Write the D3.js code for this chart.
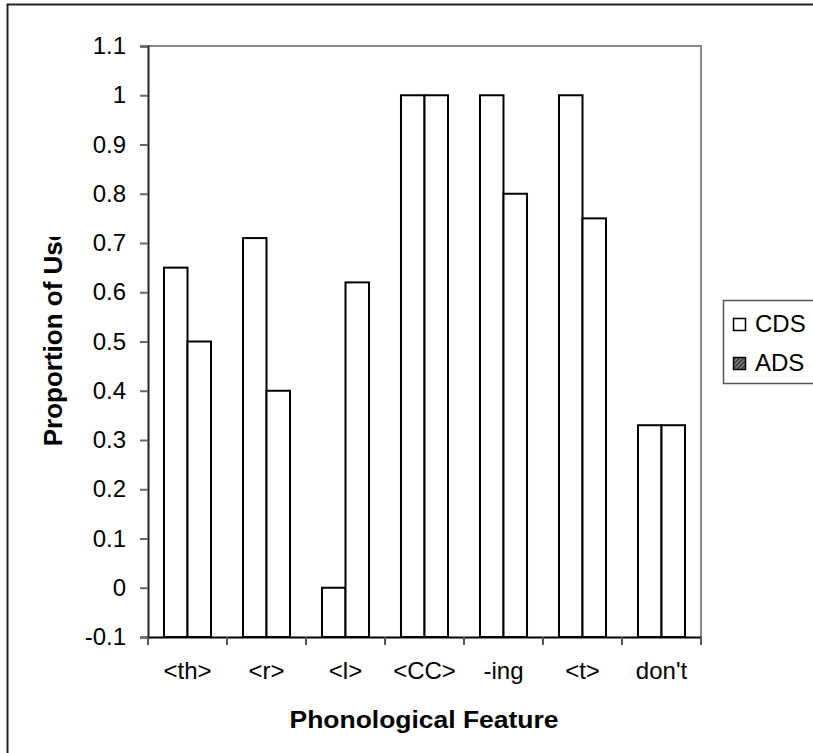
<!DOCTYPE html>
<html lang="en">
<head>
<meta charset="UTF-8">
<title>Phonological Feature</title>
<script src="https://d3js.org/d3.v7.min.js"></script>
<style>
  body { margin: 0; background: #fff; }
  text { font-family: "Liberation Sans", Arial, sans-serif; fill: #000; }
</style>
</head>
<body>
<div id="wrapper"></div>
<script>

// data
const categories = ["<th>", "<r>", "<l>", "<CC>", "-ing", "<t>", "don't"];
const cds = [0.65, 0.71, 0, 1, 1, 1, 0.33];
const ads = [0.5, 0.4, 0.62, 1, 0.8, 0.75, 0.33];
const seriesNames = ["CDS", "ADS"];
const yTicks = [-0.1, 0, 0.1, 0.2, 0.3, 0.4, 0.5, 0.6, 0.7, 0.8, 0.9, 1, 1.1];

const W = 813, H = 753;
// plot area
const plot = {left: 148, top: 46, right: 701, bottom: 637};

const svg = d3.select("#wrapper")
  .append("svg")
    .attr("width", W)
    .attr("height", H);

// hatch for the ADS legend swatch
const defs = svg.append("defs");
const pat = defs.append("pattern")
  .attr("id", "hatch")
  .attr("patternUnits", "userSpaceOnUse")
  .attr("width", 3).attr("height", 3)
  .attr("patternTransform", "rotate(45)");
pat.append("rect").attr("width", 3).attr("height", 3).attr("fill", "#777");
pat.append("line").attr("x1", 0).attr("y1", 0).attr("x2", 0).attr("y2", 3)
  .attr("stroke", "#111").attr("stroke-width", 1.5);

// the y title is cut off at the top in the original
defs.append("clipPath").attr("id", "ylabclip")
  .append("rect").attr("x", 0).attr("y", 237).attr("width", 140).attr("height", 400);

// chart border (runs off the right and bottom edges)
svg.append("rect")
  .attr("x", 7.5).attr("y", 4.5)
  .attr("width", 830).attr("height", 780)
  .attr("fill", "none")
  .attr("stroke", "#222")
  .attr("stroke-width", 2);

// scales
const x = d3.scaleBand()
  .domain(categories)
  .range([plot.left, plot.right])
  .paddingInner(0).paddingOuter(0);

const xSub = d3.scaleBand()
  .domain(seriesNames)
  .range([0, x.bandwidth()])
  .paddingOuter(0.68);

const y = d3.scaleLinear()
  .domain([-0.1, 1.1])
  .range([plot.bottom, plot.top]);

// plot frame top/right in grey
svg.append("path")
  .attr("d", `M${plot.left},${plot.top}H${plot.right}V${plot.bottom}`)
  .attr("fill", "none")
  .attr("stroke", "#888")
  .attr("stroke-width", 2);

// bars
const rows = categories.map((c, i) => ({cat: c, values: [cds[i], ads[i]]}));
svg.append("g")
  .selectAll("g")
  .data(rows)
  .join("g")
    .attr("transform", d => `translate(${x(d.cat)},0)`)
  .selectAll("rect")
  .data(d => d.values.map((v, j) => ({key: seriesNames[j], value: v})))
  .join("rect")
    .attr("x", d => xSub(d.key))
    .attr("y", d => y(d.value))
    .attr("width", xSub.bandwidth())
    .attr("height", d => y(-0.1) - y(d.value))
    .attr("fill", "#fff")
    .attr("stroke", "#000")
    .attr("stroke-width", 2);

// Y axis
const yAxis = svg.append("g")
  .attr("transform", `translate(${plot.left},0)`)
  .call(d3.axisLeft(y).tickValues(yTicks).tickSize(8).tickPadding(14)
    .tickFormat(d => String(+d.toFixed(1))));
yAxis.select(".domain").attr("stroke", "#222").attr("stroke-width", 2);
yAxis.selectAll(".tick line").attr("stroke", "#666").attr("stroke-width", 2);
yAxis.selectAll(".tick text")
  .style("font-size", "24px")
  .attr("font-family", null);

// X axis
const xAxis = svg.append("g")
  .attr("transform", `translate(0,${plot.bottom})`)
  .call(d3.axisBottom(x).tickSize(0).tickPadding(25));
xAxis.select(".domain").attr("stroke", "#000").attr("stroke-width", 2);
xAxis.selectAll(".tick text")
  .style("font-size", "24px")
  .attr("font-family", null);
// tick marks between categories
xAxis.selectAll(".sep")
  .data(categories.concat(["end"]))
  .join("line")
    .attr("class", "sep")
    .attr("x1", (d, i) => i < categories.length ? x(d) : plot.right)
    .attr("x2", (d, i) => i < categories.length ? x(d) : plot.right)
    .attr("y1", 0).attr("y2", 8)
    .attr("stroke", "#555").attr("stroke-width", 2);

// axis titles
svg.append("text")
  .attr("x", 424)
  .attr("y", 728)
  .attr("text-anchor", "middle")
  .attr("textLength", 269)
  .attr("lengthAdjust", "spacingAndGlyphs")
  .style("font-size", "24px")
  .style("font-weight", "bold")
  .text("Phonological Feature");

svg.append("g")
  .attr("clip-path", "url(#ylabclip)")
  .append("text")
  .attr("transform", `translate(62,${(plot.top + plot.bottom) / 2 - 5}) rotate(-90)`)
  .attr("text-anchor", "middle")
  .style("font-size", "26px")
  .style("font-weight", "bold")
  .text("Proportion of Use");

// legend
const legend = svg.append("g").attr("transform", "translate(723,300)");
legend.append("rect")
  .attr("x", 0.5).attr("y", 0.5)
  .attr("width", 120).attr("height", 83)
  .attr("fill", "#fff")
  .attr("stroke", "#555")
  .attr("stroke-width", 1.5);
const item = legend.selectAll(".item")
  .data(seriesNames)
  .join("g")
    .attr("class", "item")
    .attr("transform", (d, i) => `translate(0,${18 + i * 39})`);
item.append("rect")
  .attr("x", 10.5).attr("y", 0.5)
  .attr("width", 12).attr("height", 12)
  .attr("fill", (d, i) => i === 0 ? "#fff" : "url(#hatch)")
  .attr("stroke", "#000")
  .attr("stroke-width", 1.5);
item.append("text")
  .attr("x", 32)
  .attr("y", 14)
  .style("font-size", "24px")
  .text(d => d);

</script>
</body>
</html>
